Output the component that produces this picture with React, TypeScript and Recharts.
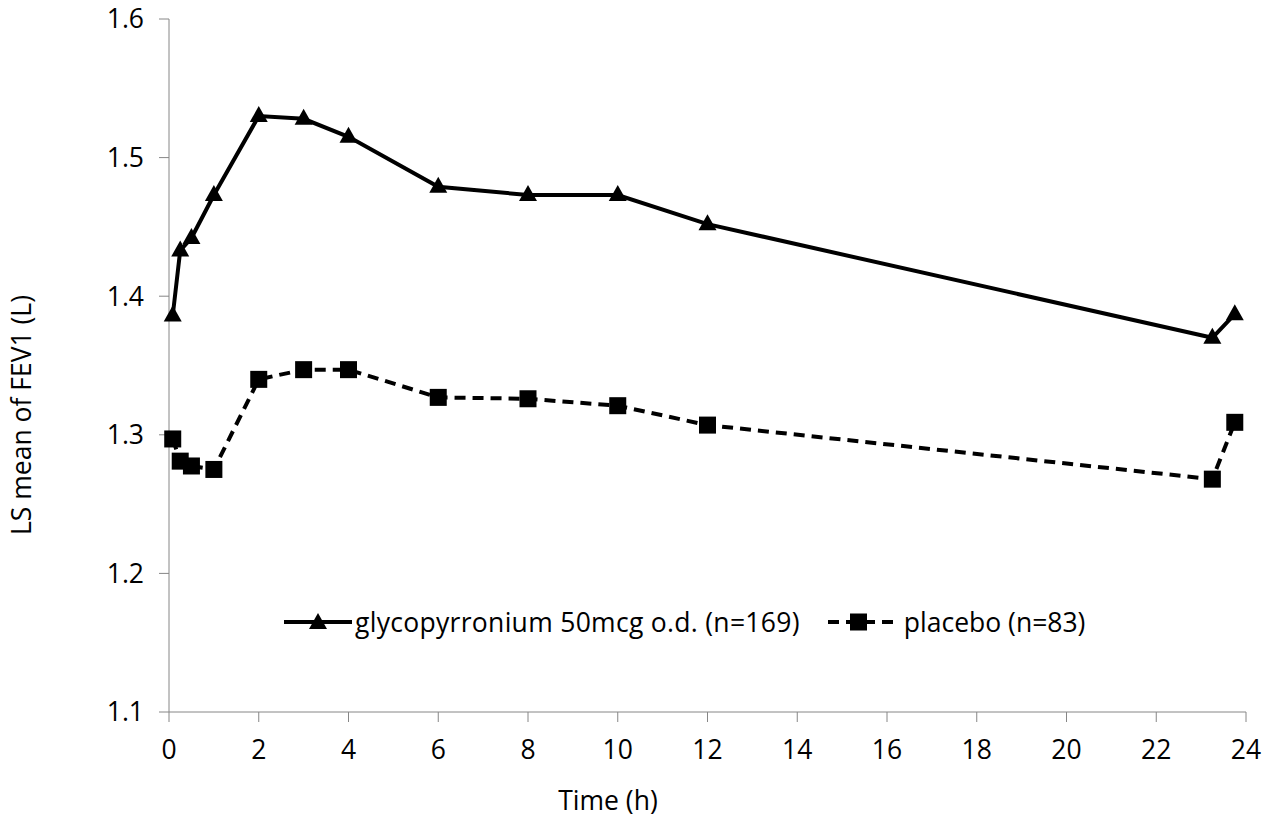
import { LineChart, Line, XAxis, YAxis, Legend, Label } from 'recharts'

const hours = [0.083, 0.25, 0.5, 1, 2, 3, 4, 6, 8, 10, 12, 23.25, 23.75]
const glycopyrronium = [1.386, 1.433, 1.442, 1.473, 1.53, 1.528, 1.515, 1.479, 1.473, 1.473, 1.452, 1.37, 1.387]
const placebo = [1.297, 1.281, 1.2775, 1.275, 1.34, 1.347, 1.347, 1.327, 1.326, 1.321, 1.307, 1.268, 1.309]
const xTicks = [0, 2, 4, 6, 8, 10, 12, 14, 16, 18, 20, 22, 24]
const yTicks = [1.1, 1.2, 1.3, 1.4, 1.5, 1.6]

const glycoName = 'glycopyrronium 50mcg o.d. (n=169)'
const placeboName = 'placebo (n=83)'

const data = hours.map((h, i) => ({ h, glyco: glycopyrronium[i], placebo: placebo[i] }))

const FONT = 'Open Sans, sans-serif'
const FS = 26.5
const AXIS = '#868686'

const Triangle = (props: any) => {
  const { cx, cy, index } = props
  if (cx == null || cy == null) return <g key={index} />
  return <path key={index} d={`M${cx},${cy - 10} L${cx + 9},${cy + 6} L${cx - 9},${cy + 6} Z`} fill="#000" />
}

const Square = (props: any) => {
  const { cx, cy, index } = props
  if (cx == null || cy == null) return <g key={index} />
  return <rect key={index} x={cx - 8.5} y={cy - 8.5} width={17} height={17} fill="#000" />
}

// legend drawn by hand so the icons match the line styles
const LegendContent = () => (
  <div style={{ display: 'flex', alignItems: 'center', fontFamily: FONT, fontSize: FS, color: '#000', whiteSpace: 'nowrap', lineHeight: '36px' }}>
    <svg width={68} height={24}>
      <line x1={0} y1={12} x2={68} y2={12} stroke="#000" strokeWidth={4} />
      <path d="M34,3 L43,19 L25,19 Z" fill="#000" />
    </svg>
    <span style={{ marginLeft: 3, letterSpacing: 0.3 }}>{glycoName}</span>
    <svg width={68} height={24} style={{ marginLeft: 28 }}>
      <line x1={0} y1={12} x2={68} y2={12} stroke="#000" strokeWidth={4} strokeDasharray="11 7" />
      <rect x={22} y={3.5} width={17} height={17} fill="#000" />
    </svg>
    <span style={{ marginLeft: 8 }}>{placeboName}</span>
  </div>
)

export default function App() {
  return (
    <div style={{ position: 'absolute', left: 0, top: 0, background: '#fff' }}>
      <LineChart width={1270} height={819} data={data} margin={{ top: 19, right: 24, left: 0, bottom: 47 }}>
        <XAxis
          dataKey="h"
          type="number"
          domain={[0, 24]}
          ticks={xTicks}
          interval={0}
          height={60}
          stroke={AXIS}
          tickSize={10}
          tickMargin={18}
          tick={{ fill: '#000', fontSize: FS, fontFamily: FONT }}
        >
          <Label
            content={({ viewBox }: any) => (
              <text x={608} y={viewBox.y + 98} textAnchor="middle" fontSize={FS} fontFamily={FONT} fill="#000">
                Time (h)
              </text>
            )}
          />
        </XAxis>
        <YAxis
          type="number"
          domain={[1.1, 1.6]}
          ticks={yTicks}
          interval={0}
          width={169}
          stroke={AXIS}
          tickSize={10}
          tickMargin={15}
          tickFormatter={(v: number) => v.toFixed(1)}
          tick={{ fill: '#000', fontSize: FS, fontFamily: FONT }}
        >
          <Label
            content={() => (
              <text
                x={0}
                y={0}
                transform="translate(31,415) rotate(-90)"
                textAnchor="middle"
                fontSize={FS}
                fontFamily={FONT}
                fill="#000"
              >
                LS mean of FEV1 (L)
              </text>
            )}
          />
        </YAxis>
        <Legend
          content={LegendContent}
          verticalAlign="middle"
          wrapperStyle={{ top: 604, left: 284, width: 'auto' }}
        />
        <Line
          dataKey="glyco"
          name={glycoName}
          stroke="#000"
          strokeWidth={4}
          dot={Triangle}
          activeDot={false}
          isAnimationActive={false}
        />
        <Line
          dataKey="placebo"
          name={placeboName}
          stroke="#000"
          strokeWidth={4}
          strokeDasharray="11 7"
          dot={Square}
          activeDot={false}
          isAnimationActive={false}
        />
      </LineChart>
    </div>
  )
}
